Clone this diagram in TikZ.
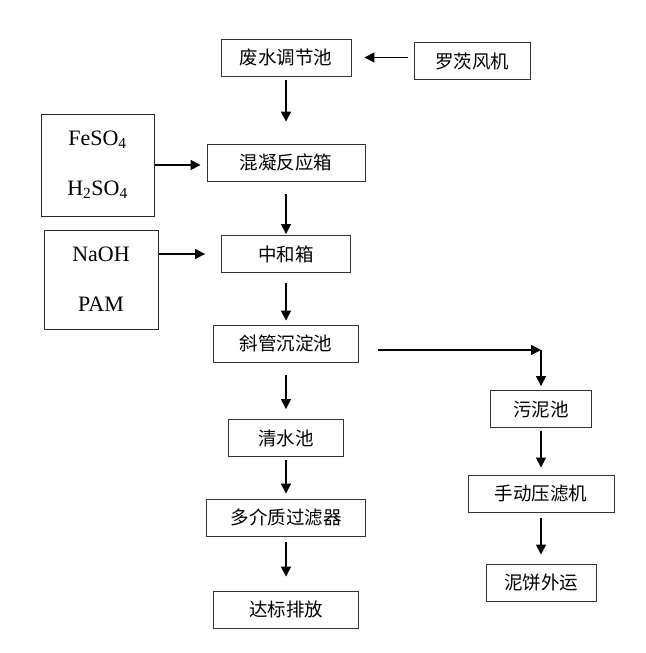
\documentclass[tikz,border=0pt]{standalone}
\usepackage{fontspec}
\setmainfont{Liberation Serif}
\newfontfamily\cjk{Noto Sans CJK SC}
\usetikzlibrary{arrows.meta}

\begin{document}
\begin{tikzpicture}
    [
        x=1pt, y=-1pt,
        unit_box/.style={rectangle, draw=black!80, fill=white, line width=0.9pt, minimum height=37pt, inner sep=0pt, font=\cjk\fontsize{18.5}{22}\selectfont},
        dose_box/.style={rectangle, draw=black!85, fill=white, line width=1pt, align=center, font=\fontsize{22}{26}\selectfont},
        flow/.style={-{Triangle[length=10pt, width=10pt]}, line width=1.5pt, color=black},
    ]
        \useasboundingbox (0,0) rectangle (645,653);
        % main line
        \node[unit_box, minimum width=130pt] (pool) at (286,57.5) {废水调节池};
        \node[unit_box, minimum width=116pt] (blower) at (472,61) {罗茨风机};
        \node[unit_box, minimum width=158pt] (coag) at (286,162.5) {混凝反应箱};
        \node[unit_box, minimum width=129pt] (neut) at (286,254) {中和箱};
        \node[unit_box, minimum width=145pt] (settle) at (286,343.5) {斜管沉淀池};
        \node[unit_box, minimum width=115pt] (clear) at (286,438) {清水池};
        \node[unit_box, minimum width=159pt] (filter) at (286,517.5) {多介质过滤器};
        \node[unit_box, minimum width=145pt] (outlet) at (286,609.5) {达标排放};
        % sludge line
        \node[unit_box, minimum width=101pt] (sludge) at (541,409) {污泥池};
        \node[unit_box, minimum width=146pt] (press) at (541,493.5) {手动压滤机};
        \node[unit_box, minimum width=110pt] (cake) at (541,582.5) {泥饼外运};
        \coordinate (bend) at (541,350);
        % dosing
        \node[dose_box, minimum width=113pt, minimum height=102pt] (dose1) at (97.5,165) {FeSO\textsubscript{4}\\[24pt]H\textsubscript{2}SO\textsubscript{4}};
        \node[dose_box, minimum width=114pt, minimum height=99pt] (dose2) at (101,279.5) {NaOH\\[24pt]PAM};
        % flows
        \draw[flow, shorten <=6pt, shorten >=13pt] (blower.west |- pool.east) -- (pool.east);
        \draw[flow, shorten >=6pt] (dose1.east) -- (dose1.east -| coag.west);
        \draw[flow, shorten >=16pt] (dose2.east |- neut.west) -- (neut.west);
        \draw[flow, shorten <=4pt, shorten >=22pt] (pool) -- (coag);
        \draw[flow, shorten <=13pt, shorten >=1pt] (coag) -- (neut);
        \draw[flow, shorten <=10pt, shorten >=4pt] (neut) -- (settle);
        \draw[flow, shorten <=13pt, shorten >=10pt] (settle) -- (clear);
        \draw[flow, shorten <=3pt, shorten >=5pt] (clear) -- (filter);
        \draw[flow, shorten <=6pt, shorten >=14pt] (filter) -- (outlet);
        \draw[flow, shorten <=19pt] (settle.east |- bend) -- (bend);
        \draw[flow, shorten >=4pt] (bend) -- (sludge);
        \draw[flow, shorten <=3pt, shorten >=7pt] (sludge) -- (press);
        \draw[flow, shorten <=6pt, shorten >=9pt] (press) -- (cake);
    \end{tikzpicture}
\end{document}
